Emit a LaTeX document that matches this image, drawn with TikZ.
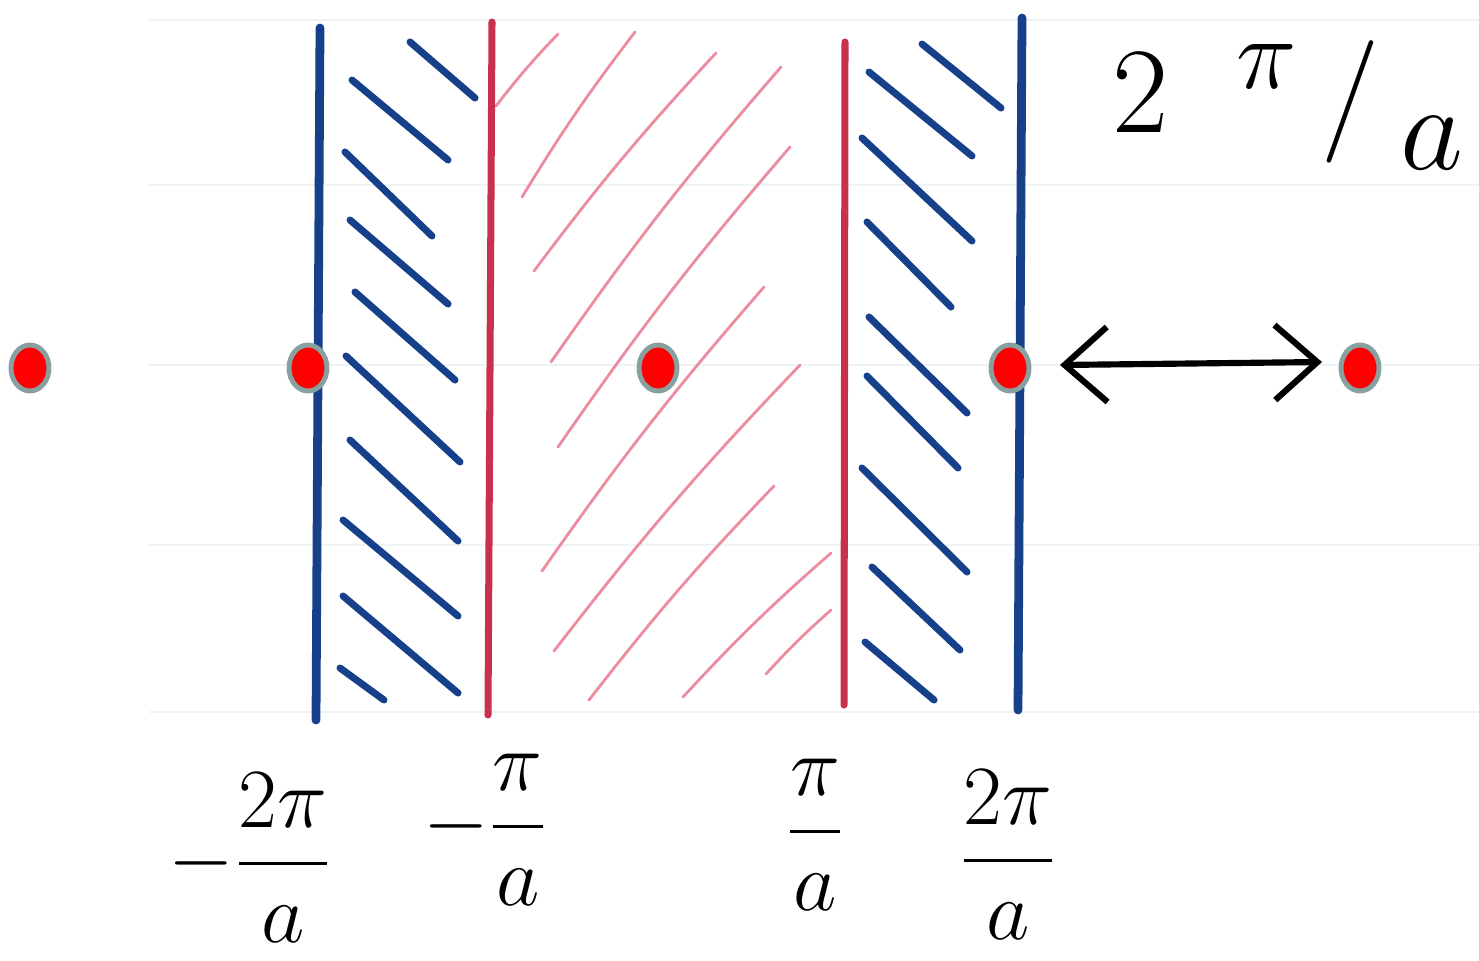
\documentclass[tikz,border=0pt]{standalone}
\usepackage{amsmath}
\usepackage{graphicx}
\usepackage{tikz}
\usetikzlibrary{arrows.meta,shapes.geometric}
\definecolor{zoneblue}{RGB}{22, 64, 138}
\definecolor{zonered}{RGB}{200, 48, 78}
\definecolor{zonepink}{RGB}{236, 140, 160}
\definecolor{dotrim}{RGB}{136, 160, 160}
\definecolor{paperline}{RGB}{238, 243, 243}
\newcommand{\biglbl}[2]{\scalebox{#1}{\Huge #2}}

\begin{document}
\begin{tikzpicture}[
    x=0.02cm, y=-0.02cm,
    line cap=round,
    paper/.style={draw=paperline, line width=1.2pt},
    blueline/.style={draw=zoneblue, line width=5pt},
    redline/.style={draw=zonered, line width=4pt},
    bluehatch/.style={draw=zoneblue, line width=4pt},
    pinkhatch/.style={draw=zonepink, line width=1.6pt},
    dot/.style={ellipse, draw=dotrim, fill=red, line width=2.8pt, minimum width=0.76cm, minimum height=0.92cm, inner sep=0pt},
    lbl/.style={inner sep=0pt},
    arrow/.style={{Straight Barb[length=0.85cm, width=1.5cm]}-{Straight Barb[length=0.85cm, width=1.5cm]}, line width=3.5pt}
]
\useasboundingbox (0,0) rectangle (1479,960);

% ===================== PAPER =====================
\foreach \y in {20,185,365,545,712}
  \draw[paper] (150,\y) -- (1479,\y);

% ===================== ZONE BOUNDARIES =====================
\coordinate (bl top) at (320,28);  \coordinate (bl bot) at (316,720);
\coordinate (rl top) at (492,22);  \coordinate (rl bot) at (488,715);
\coordinate (rr top) at (845,42);  \coordinate (rr bot) at (844,705);
\coordinate (br top) at (1022,18); \coordinate (br bot) at (1018,710);

% ===================== HATCHING =====================
\foreach \a/\b/\c/\d in {410/42/475/98, 352/80/448/160, 345/152/432/236,
    350/220/448/304, 355/292/455/380, 346/356/460/462, 350/440/458/541,
    343/520/458/616, 343/596/458/693, 340/668/384/700}
  \draw[bluehatch] (\a,\b) -- (\c,\d);

\foreach \a/\b/\c/\d in {922/44/1001/108, 869/72/972/156, 862/138/972/241,
    867/222/951/307, 869/317/967/413, 867/376/958/468, 862/468/967/572,
    872/567/960/650, 865/642/934/700}
  \draw[bluehatch] (\a,\b) -- (\c,\d);

\foreach \a/\b/\c/\d in {496/106/558/34, 522/197/635/32, 534/271/716/53,
    551/362/781/67, 558/447/790/147, 542/571/764/287, 554/651/800/365,
    589/700/774/486, 683/697/831/553, 766/674/831/610}
  \draw[pinkhatch] (\a,\b) to[bend left=3] (\c,\d);

\draw[blueline] (bl top) -- (bl bot);
\draw[redline] (rl top) -- (rl bot);
\draw[redline] (rr top) -- (rr bot);
\draw[blueline] (br top) -- (br bot);

% ===================== LATTICE POINTS =====================
\node[dot] (p0) at (30,368) {};
\node[dot] (p1) at (308,368) {};
\node[dot] (p2) at (658,368) {};
\node[dot] (p3) at (1010,368) {};
\node[dot] (p4) at (1360,368) {};

% ===================== PERIOD =====================
\coordinate (arr l) at (1060,365);
\coordinate (arr r) at (1322,362);
\draw[arrow] (arr l) -- (arr r);
\node[lbl] (period) at (1288,105)
  {\biglbl{2.8}{$2\;\;{}^{\pi}\,/\,\lower 0.3em\hbox{$a$}$}};

% ===================== LABELS =====================
\node[lbl] (lab m2) at (250,858) {\biglbl{1.93}{$-\dfrac{2\pi}{a}$}};
\node[lbl] (lab m1) at (485,830) {\biglbl{1.93}{$-\dfrac{\pi}{a}$}};
\node[lbl] (lab p1) at (815,835) {\biglbl{1.93}{$\dfrac{\pi}{a}$}};
\node[lbl] (lab p2) at (1008,855) {\biglbl{1.93}{$\dfrac{2\pi}{a}$}};

\end{tikzpicture}
\end{document}
